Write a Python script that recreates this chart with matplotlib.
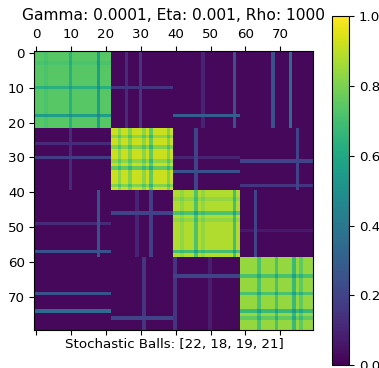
import numpy as np
import matplotlib
matplotlib.use("Agg")
import matplotlib.pyplot as plt

# Block sizes and settings shown in the labels
ball_sizes = [22, 18, 19, 21]
gamma, eta, rho = 0.0001, 0.001, 1000

# Within-block level for each diagonal block
block_level = [0.74, 0.92, 0.88, 0.84]
off_level = 0.02

# Nodes that are weaker inside their own block (node index -> factor)
node_factor = {
    3: 0.97, 10: 0.86, 18: 0.76,
    24: 0.9, 27: 0.88, 31: 0.9, 33: 0.82, 38: 0.88,
    42: 0.95, 46: 0.82, 48: 0.95, 57: 0.8,
    64: 0.85, 69: 0.85, 74: 0.8, 76: 0.9,
}

# Off-block stripes: (row, column block, value)
row_stripes = [
    (10, 1, 0.15), (18, 2, 0.30), (26, 0, 0.12), (30, 0, 0.18),
    (30, 2, 0.10), (34, 2, 0.25), (31, 3, 0.20), (38, 3, 0.15),
    (49, 0, 0.12), (57, 0, 0.25), (46, 1, 0.20), (51, 3, 0.07),
    (64, 2, 0.20), (69, 0, 0.25), (74, 0, 0.35), (76, 1, 0.20),
]
# Off-block stripes: (column, row block, value)
col_stripes = [
    (26, 0, 0.12), (30, 0, 0.15), (48, 0, 0.10), (57, 0, 0.25),
    (68, 0, 0.25), (73, 0, 0.35), (10, 1, 0.12), (46, 1, 0.20),
    (75, 1, 0.20), (18, 2, 0.25), (29, 2, 0.10), (33, 2, 0.18),
    (63, 2, 0.20), (31, 3, 0.15), (40, 3, 0.15), (50, 3, 0.08),
]

n = sum(ball_sizes)
edges = np.concatenate([[0], np.cumsum(ball_sizes)])
mat = np.full((n, n), off_level)
f = np.ones(n)
for k, v in node_factor.items():
    f[k] = v
for b in range(len(ball_sizes)):
    s, e = edges[b], edges[b + 1]
    mat[s:e, s:e] = block_level[b] * np.outer(f[s:e], f[s:e])
for r, cb, v in row_stripes:
    mat[r, edges[cb]:edges[cb + 1]] = v
for c, rb, v in col_stripes:
    mat[edges[rb]:edges[rb + 1], c] = np.maximum(mat[edges[rb]:edges[rb + 1], c], v)

fig = plt.figure(figsize=(3.79, 3.68), dpi=100)
ax = fig.add_axes([0.091, 0.1033, 0.736, 0.758])
cax = fig.add_axes([0.876, 0.008, 0.045, 0.948])

im = ax.matshow(mat, cmap="viridis", vmin=0, vmax=1)
ax.set_xticks(range(0, n, 10))
ax.set_yticks(range(0, n, 10))
ax.tick_params(labelsize=9.6)
ax.set_title(f"Gamma: {gamma}, Eta: {eta}, Rho: {rho}", fontsize=11.2)
ax.set_xlabel(f"Stochastic Balls: {ball_sizes}", fontsize=9.6, labelpad=2)

cb = fig.colorbar(im, cax=cax)
cb.set_ticks([0.0, 0.2, 0.4, 0.6, 0.8, 1.0])
cb.ax.tick_params(labelsize=9.6)

fig.savefig("out.png", dpi=100)
